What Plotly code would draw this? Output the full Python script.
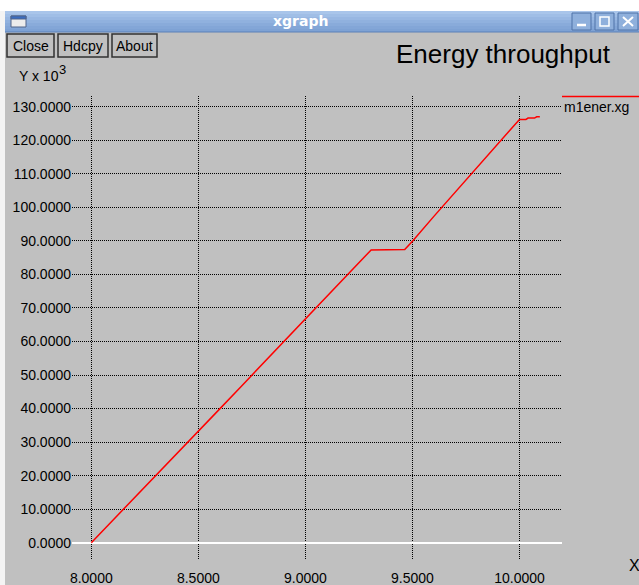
import plotly.graph_objects as go

# ---- data (energy in units of 10^3) ----
time_s = [8.00, 8.10, 8.20, 8.30, 8.40, 8.50, 8.60, 8.70, 8.80, 8.90, 9.00,
          9.10, 9.20, 9.307, 9.464, 9.50, 9.60, 9.70, 9.80, 9.90, 10.00,
          10.03, 10.04, 10.07, 10.08, 10.095]
energy_k = [0.0, 6.6, 13.3, 20.0, 26.6, 33.1, 39.9, 46.6, 53.3, 60.0, 66.6,
            73.4, 80.3, 87.3, 87.4, 89.9, 97.3, 104.5, 111.6, 118.9, 126.2,
            126.2, 126.6, 126.6, 127.0, 127.0]
x_ticks = [8.0, 8.5, 9.0, 9.5, 10.0]
y_ticks = [0, 10, 20, 30, 40, 50, 60, 70, 80, 90, 100, 110, 120, 130]
series_name = "m1ener.xg"
chart_title = "Energy throughput"

W, H = 639, 585
L, R, T, B = 72, 77, 96, 25
PW, PH = W - L - R, H - T - B
FONT = "Liberation Sans"
BG = "#c0c0c0"


def PX(x):
    return (x - L) / PW


def PY(y):
    return (H - B - y) / PH


fig = go.Figure()
fig.add_trace(go.Scatter(x=time_s, y=energy_k, mode="lines", name=series_name,
                         line=dict(color="#ff0000", width=1.5), showlegend=False))

shapes = []
annotations = []

# white screen border (top and left)
shapes.append(dict(type="rect", xref="paper", yref="paper", x0=PX(0), x1=PX(W),
                   y0=PY(11), y1=PY(0), fillcolor="#ffffff", line_width=0, layer="below"))
shapes.append(dict(type="rect", xref="paper", yref="paper", x0=PX(0), x1=PX(5),
                   y0=PY(H), y1=PY(11), fillcolor="#f4f4f4", line_width=0, layer="below"))

# title bar gradient
bar_cols = ["#a9c5ea", "#a0bee6", "#98b7e2", "#90b1de", "#89abda", "#83a6d7", "#7ea2d4"]
n = len(bar_cols)
for i, c in enumerate(bar_cols):
    y0 = 11 + i * 21 / n
    y1 = 11 + (i + 1) * 21 / n
    shapes.append(dict(type="rect", xref="paper", yref="paper", x0=PX(5), x1=PX(W),
                       y0=PY(y1), y1=PY(y0), fillcolor=c, line_width=0, layer="below"))
shapes.append(dict(type="line", xref="paper", yref="paper", x0=PX(5), x1=PX(W),
                   y0=PY(32), y1=PY(32), line=dict(color="#5b80b8", width=1)))
# window icon
shapes.append(dict(type="rect", xref="paper", yref="paper", x0=PX(11), x1=PX(26),
                   y0=PY(27), y1=PY(16), fillcolor="#ececec", line=dict(color="#50648a", width=1)))
shapes.append(dict(type="rect", xref="paper", yref="paper", x0=PX(11), x1=PX(26),
                   y0=PY(19), y1=PY(16), fillcolor="#3a6cc0", line=dict(color="#50648a", width=1)))
# window buttons
for bx0, bx1 in [(572, 591), (595, 614), (618, 638)]:
    shapes.append(dict(type="rect", xref="paper", yref="paper", x0=PX(bx0), x1=PX(bx1),
                       y0=PY(30), y1=PY(13), fillcolor="#8fb0dc",
                       line=dict(color="#4f73a8", width=1)))
shapes.append(dict(type="line", xref="paper", yref="paper", x0=PX(577), x1=PX(586),
                   y0=PY(25), y1=PY(25), line=dict(color="#ffffff", width=2.5)))
shapes.append(dict(type="rect", xref="paper", yref="paper", x0=PX(600), x1=PX(609),
                   y0=PY(26), y1=PY(17), line=dict(color="#ffffff", width=1.5)))
shapes.append(dict(type="line", xref="paper", yref="paper", x0=PX(623), x1=PX(633),
                   y0=PY(26), y1=PY(17), line=dict(color="#ffffff", width=2)))
shapes.append(dict(type="line", xref="paper", yref="paper", x0=PX(623), x1=PX(633),
                   y0=PY(17), y1=PY(26), line=dict(color="#ffffff", width=2)))
annotations.append(dict(text="<b>xgraph</b>", xref="paper", yref="paper", x=PX(300), y=PY(21),
                        xanchor="center", yanchor="middle", showarrow=False,
                        font=dict(family="DejaVu Sans", size=14, color="#ffffff")))

# buttons
for label, bx0, bx1 in [("Close", 7, 54), ("Hdcpy", 58, 108), ("About", 112, 157)]:
    shapes.append(dict(type="rect", xref="paper", yref="paper", x0=PX(bx0), x1=PX(bx1),
                       y0=PY(57), y1=PY(34), fillcolor=BG,
                       line=dict(color="#303030", width=1.5)))
    annotations.append(dict(text=label, xref="paper", yref="paper", x=PX((bx0 + bx1) / 2),
                            y=PY(46), xanchor="center", yanchor="middle", showarrow=False,
                            font=dict(family=FONT, size=14, color="#000000")))

# title, axis unit labels, legend
annotations.append(dict(text=chart_title, xref="paper", yref="paper", x=PX(503), y=PY(54),
                        xanchor="center", yanchor="middle", showarrow=False,
                        font=dict(family=FONT, size=26, color="#000000")))
annotations.append(dict(text="Y x 10", xref="paper", yref="paper", x=PX(17), y=PY(76),
                        xanchor="left", yanchor="middle", showarrow=False,
                        font=dict(family=FONT, size=14, color="#000000")))
annotations.append(dict(text="3", xref="paper", yref="paper", x=PX(57), y=PY(70),
                        xanchor="left", yanchor="middle", showarrow=False,
                        font=dict(family=FONT, size=13, color="#000000")))
annotations.append(dict(text="X", xref="paper", yref="paper", x=PX(627), y=PY(565),
                        xanchor="left", yanchor="middle", showarrow=False,
                        font=dict(family=FONT, size=16, color="#000000")))
shapes.append(dict(type="line", xref="paper", yref="paper", x0=PX(562), x1=PX(W),
                   y0=PY(96.5), y1=PY(96.5), line=dict(color="#ff0000", width=1.5)))
annotations.append(dict(text=series_name, xref="paper", yref="paper", x=PX(562), y=PY(107),
                        xanchor="left", yanchor="middle", showarrow=False,
                        font=dict(family=FONT, size=14, color="#000000")))

# axis ranges from pixel calibration
x_lo = 8.0 - (91.3 - L) / 214.1
x_hi = 10.0 + (L + PW - 519.5) / 214.1
y_scale = (542.7 - 106.7) / 130.0
y_lo = -((H - B) - 542.7) / y_scale
y_hi = 130.0 + (106.7 - T) / y_scale

fig.update_layout(
    width=W, height=H,
    margin=dict(l=L, r=R, t=T, b=B, pad=0, autoexpand=False),
    paper_bgcolor=BG, plot_bgcolor=BG,
    font=dict(family=FONT, size=14, color="#000000"),
    shapes=shapes, annotations=annotations,
    xaxis=dict(range=[x_lo, x_hi], tickvals=x_ticks, tickformat=".4f", automargin=False,
               showgrid=True, gridcolor="#000000", griddash="1px,1px", gridwidth=1,
               zeroline=False, showline=False, ticks="", ticklabelstandoff=8,
               tickfont=dict(family=FONT, size=14, color="#000000")),
    yaxis=dict(range=[y_lo, y_hi], tickvals=y_ticks, tickformat=".4f", automargin=False,
               showgrid=True, gridcolor="#000000", griddash="1px,1px", gridwidth=1,
               zeroline=True, zerolinecolor="#ffffff", zerolinewidth=1.5,
               showline=False, ticks="", ticklabelstandoff=0,
               tickfont=dict(family=FONT, size=14, color="#000000")),
)

fig.write_html("out.html", config={"displayModeBar": False},
               post_script="document.body.style.margin='0';document.body.style.padding='0';"
                           "document.documentElement.style.overflow='hidden';")
